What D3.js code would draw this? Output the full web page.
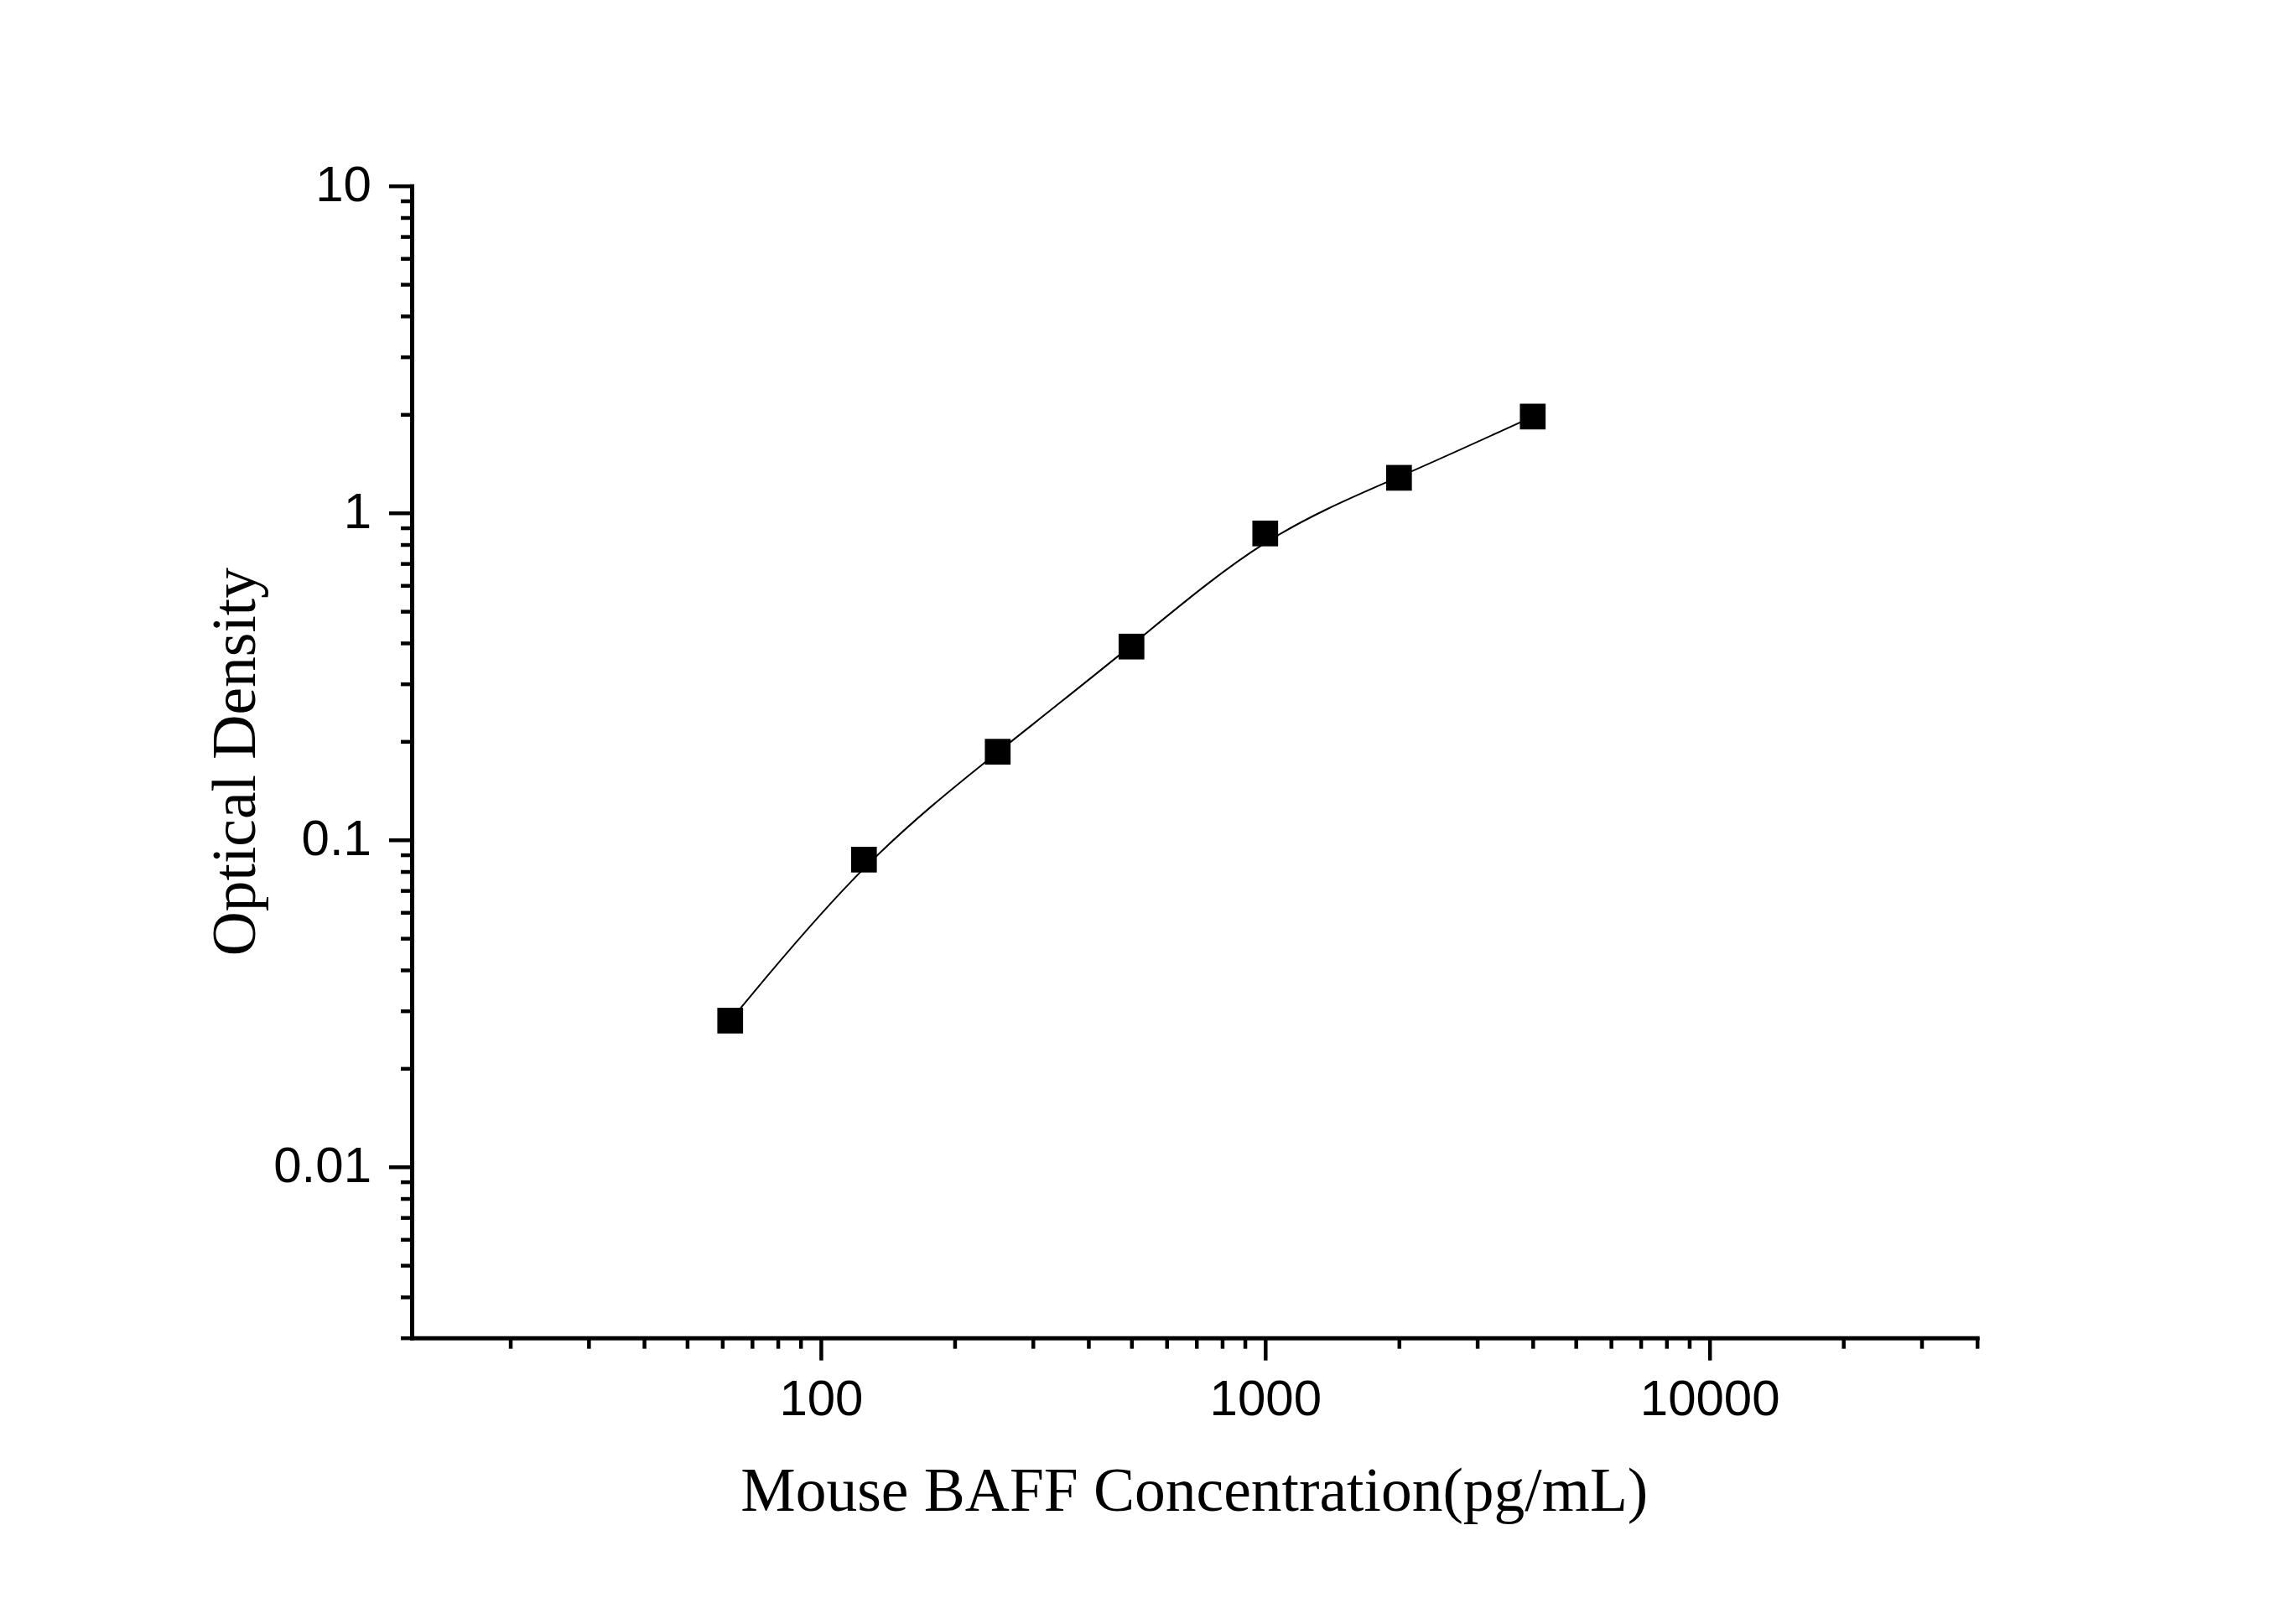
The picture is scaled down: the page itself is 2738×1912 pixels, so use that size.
<!DOCTYPE html>
<html>
<head>
<meta charset="utf-8">
<script src="https://cdn.jsdelivr.net/npm/d3@7"></script>
<style>
  html, body { margin: 0; padding: 0; background: #ffffff; }
</style>
</head>
<body>
<svg class="chart_svg"><g class="g_1"></g></svg>
<script>
// standard curve data
var concentrations = [62.5, 125, 250, 500, 1000, 2000, 4000];
var densities = [0.028, 0.087, 0.186, 0.390, 0.865, 1.28, 1.97];

// axis ticks
var xMajorTicks = [100, 1000, 10000];
var xMinorTicks = [20, 30, 40, 50, 60, 70, 80, 90,
    200, 300, 400, 500, 600, 700, 800, 900,
    2000, 3000, 4000, 5000, 6000, 7000, 8000, 9000,
    20000, 30000, 40000];
var yMajorTicks = [0.01, 0.1, 1, 10];
var yMinorTicks = [0.003, 0.004, 0.005, 0.006, 0.007, 0.008, 0.009,
    0.02, 0.03, 0.04, 0.05, 0.06, 0.07, 0.08, 0.09,
    0.2, 0.3, 0.4, 0.5, 0.6, 0.7, 0.8, 0.9,
    2, 3, 4, 5, 6, 7, 8, 9];
var xDomain = [12, 40000];
var yDomain = [0.003, 10];

var xTitle = "Mouse BAFF Concentration(pg/mL)";
var yTitle = "Optical Density";

var data = concentrations.map(function (c, i) { return { conc: c, od: densities[i] }; });

// set dimensions and margins of graph
var W = 2738, H = 1912;
var margin = { top: 221.7, right: 380.3, bottom: 316.3, left: 491 },
    w = W - margin.left - margin.right,
    h = H - margin.top - margin.bottom;

var svg = d3.select(".chart_svg")
    .attr("width", W)
    .attr("height", H);

svg.insert("rect", ":first-child")
    .attr("width", W).attr("height", H).attr("fill", "#ffffff");

var container = svg.select(".g_1")
    .attr("transform", `translate(${margin.left}, ${margin.top})`);

const x_scale = d3.scaleLog().domain(xDomain).range([0, w]);
const y_scale = d3.scaleLog().domain(yDomain).range([h, 0]);

var tickFont = "'Liberation Sans', Arial, sans-serif";
var titleFont = "'Liberation Serif', 'Times New Roman', serif";

// minor ticks first
container.append("g").attr("class", "x_minor")
    .attr("transform", `translate(0, ${h})`)
    .call(d3.axisBottom(x_scale).tickValues(xMinorTicks).tickSize(13).tickSizeOuter(0).tickFormat(""));
container.append("g").attr("class", "y_minor")
    .call(d3.axisLeft(y_scale).tickValues(yMinorTicks).tickSize(13).tickSizeOuter(0).tickFormat(""));

// major ticks with labels
var xAxis = container.append("g").attr("class", "x_axis_g")
    .attr("transform", `translate(0, ${h})`)
    .call(d3.axisBottom(x_scale).tickValues(xMajorTicks).tickSize(27).tickSizeOuter(0)
        .tickFormat(d3.format("d")));
var yAxis = container.append("g").attr("class", "y_axis_g")
    .call(d3.axisLeft(y_scale).tickValues(yMajorTicks).tickSize(27).tickSizeOuter(0)
        .tickFormat(function (d) { return d >= 1 ? d3.format("d")(d) : String(d); }));

container.selectAll(".x_minor .domain, .y_minor .domain").remove();
container.selectAll(".domain")
    .attr("stroke", "#000").attr("stroke-width", 5).attr("stroke-linecap", "square");
container.selectAll(".tick line")
    .attr("stroke", "#000").attr("stroke-width", 4.5);

xAxis.selectAll(".tick text")
    .attr("y", 92).attr("dy", null)
    .attr("fill", "#000")
    .style("font-family", tickFont).style("font-size", "60px");
yAxis.selectAll(".tick text")
    .attr("x", -48).attr("dy", null).attr("y", 18)
    .attr("fill", "#000")
    .style("font-family", tickFont).style("font-size", "60px");

// smooth fitted-looking line through the standards
var line = d3.line()
    .x(function (d) { return x_scale(d.conc); })
    .y(function (d) { return y_scale(d.od); })
    .curve(d3.curveBasis);

container.append("path")
    .datum(data)
    .attr("d", line)
    .attr("fill", "none")
    .attr("stroke", "#000")
    .attr("stroke-width", 2);

// square markers
var s = 30.7;
container.selectAll("rect.pt")
    .data(data)
    .join("rect")
    .attr("class", "pt")
    .attr("x", function (d) { return x_scale(d.conc) - s / 2; })
    .attr("y", function (d) { return y_scale(d.od) - s / 2; })
    .attr("width", s)
    .attr("height", s)
    .attr("fill", "#000");

// X axis label
container.append("text")
    .attr("text-anchor", "middle")
    .attr("x", w / 2)
    .attr("y", 1802 - margin.top)
    .style("font-family", titleFont)
    .style("font-size", "73.5px")
    .attr("fill", "#000")
    .text(xTitle);

// Y axis label
container.append("text")
    .attr("text-anchor", "middle")
    .attr("transform", "rotate(-90)")
    .attr("x", -h / 2)
    .attr("y", 304 - margin.left)
    .style("font-family", titleFont)
    .style("font-size", "73.5px")
    .attr("fill", "#000")
    .text(yTitle);
</script>
</body>
</html>
